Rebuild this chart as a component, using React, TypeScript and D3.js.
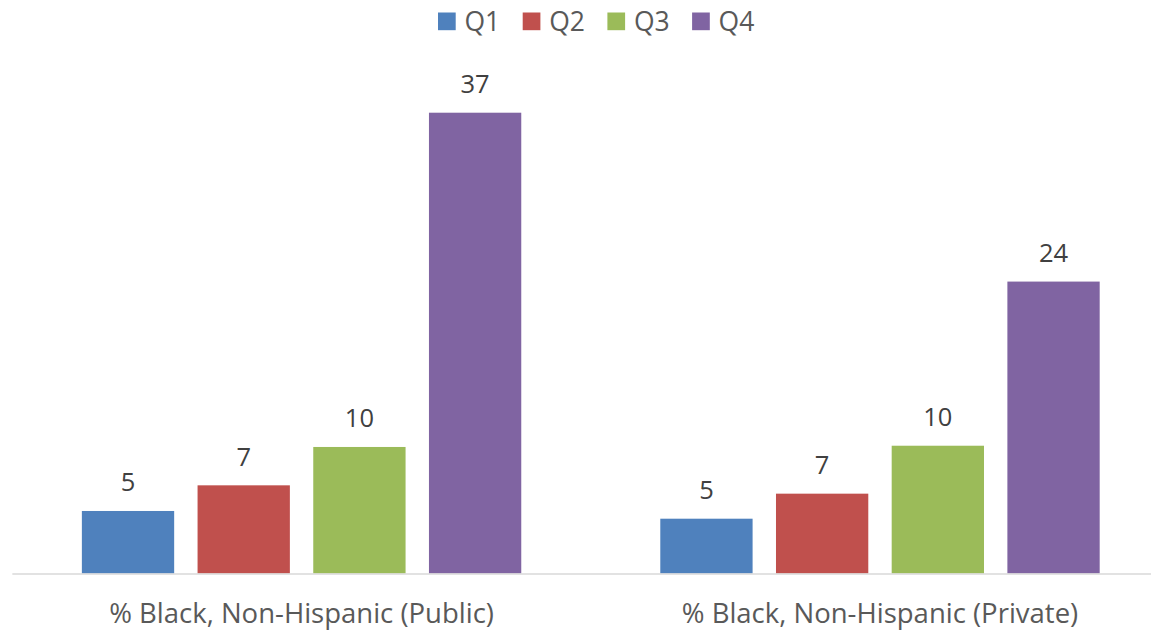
import React from "react";
import * as d3 from "d3";

const categories = ["% Black, Non-Hispanic (Public)", "% Black, Non-Hispanic (Private)"];
const seriesNames = ["Q1", "Q2", "Q3", "Q4"];
const seriesColors = ["#4F81BD", "#C0504D", "#9BBB59", "#8064A2"];
// bar values per series, [Public, Private]
const q1Values = [5.02, 4.4];
const q2Values = [7.08, 6.41];
const q3Values = [10.16, 10.26];
const q4Values = [37.0, 23.44];
// data labels as printed
const q1Labels = ["5", "5"];
const q2Labels = ["7", "7"];
const q3Labels = ["10", "10"];
const q4Labels = ["37", "24"];
const yDomain = [0, 40];

const W = 1151;
const H = 632;
const FONT = "'Open Sans', sans-serif";

export default function App() {
  const seriesValues = [q1Values, q2Values, q3Values, q4Values];
  const seriesLabels = [q1Labels, q2Labels, q3Labels, q4Labels];

  const plotLeft = 12.35;
  const plotRight = 1169.2;
  const baseY = 573.5;
  const pxPerUnit = 12.454;

  const x0 = d3.scaleBand<string>().domain(categories).range([plotLeft, plotRight]).padding(0);
  const groupW = 439.4;
  const bw0 = x0.bandwidth();
  const x1 = d3
    .scaleBand<string>()
    .domain(seriesNames)
    .range([(bw0 - groupW) / 2, (bw0 + groupW) / 2])
    .paddingInner(0.2022)
    .paddingOuter(0);
  const y = d3
    .scaleLinear()
    .domain(yDomain)
    .range([baseY, baseY - (yDomain[1] - yDomain[0]) * pxPerUnit]);

  // legend layout
  const legendStart = 438;
  const legendStep = 84.7;
  const sq = 17.7;

  return (
    <svg width={W} height={H} style={{ position: "absolute", left: 0, top: 0, background: "#fff" }}>
      <rect x={0} y={0} width={W} height={H} fill="#fff" />
      {/* legend */}
      {seriesNames.map((s, i) => (
        <g key={s} transform={`translate(${legendStart + i * legendStep},0)`}>
          <rect x={0} y={12.5} width={sq} height={sq} fill={seriesColors[i]} />
          <text x={26.5} y={31} fontFamily={FONT} fontSize={26.5} fill="#595959">
            {s}
          </text>
        </g>
      ))}
      {/* bars */}
      {categories.map((c, ci) => (
        <g key={c} transform={`translate(${x0(c)},0)`}>
          {seriesNames.map((s, si) => {
            const v = seriesValues[si][ci];
            const bx = x1(s) as number;
            const top = y(v);
            return (
              <g key={s}>
                <rect x={bx} y={top} width={x1.bandwidth()} height={y(0) - top} fill={seriesColors[si]} />
                <text
                  x={bx + x1.bandwidth() / 2}
                  y={top - 19.5}
                  textAnchor="middle"
                  fontFamily={FONT}
                  fontSize={25.5}
                  fill="#404040"
                >
                  {seriesLabels[si][ci]}
                </text>
              </g>
            );
          })}
        </g>
      ))}
      {/* axis line */}
      <line x1={plotLeft} x2={plotRight} y1={y(0) + 0.5} y2={y(0) + 0.5} stroke="#D9D9D9" strokeWidth={1.5} />
      {/* category labels */}
      {categories.map((c) => (
        <text
          key={c}
          x={(x0(c) as number) + bw0 / 2}
          y={623}
          textAnchor="middle"
          fontFamily={FONT}
          fontSize={27.5}
          fill="#595959"
        >
          {c}
        </text>
      ))}
    </svg>
  );
}
